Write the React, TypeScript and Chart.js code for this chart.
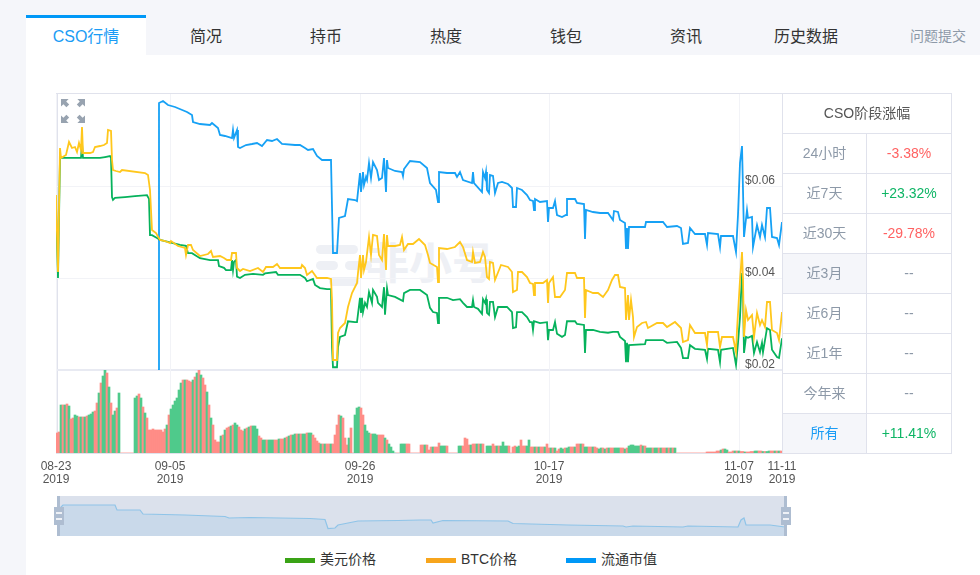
import React, { useEffect, useRef } from "react";
import { Chart, registerables } from "chart.js";

Chart.register(...registerables);

const FONT = '"Liberation Sans", "Noto Sans CJK SC", sans-serif';

const tabs = ["CSO行情", "简况", "持币", "热度", "钱包", "资讯", "历史数据"];
const tableTitle = "CSO阶段涨幅";
const periods = ["24小时", "近7天", "近30天", "近3月", "近6月", "近1年", "今年来", "所有"];
const changes = ["-3.38%", "+23.32%", "-29.78%", "--", "--", "--", "--", "+11.41%"];
const legendNames = ["美元价格", "BTC价格", "流通市值"];

const xTickIndex = [0, 114, 304, 493, 683, 726];
const xTickDates = ["08-23", "09-05", "09-26", "10-17", "11-07", "11-11"];
const xTickYears = ["2019", "2019", "2019", "2019", "2019", "2019"];
const usdTicks = [20, 40, 60];

// [sample index, USD price in thousandths of a dollar]
const usdPrice: number[][] = [
  [0,55.9],[2,40.0],[4,66.1],[25,66.1],[26,69.3],[27,66.1],[44,66.1],[49,66.3],[54,66.5],[55,66.1],[56,57.6],[57,57.0],[59,57.4],[69,57.6],[79,57.8],[91,58.0],[93,57.2],[94,49.3],
  [96,49.3],[101,48.7],[104,48.3],[124,47.2],[130,47.0],[132,45.4],[136,45.4],[144,44.3],[154,43.9],[162,43.9],[163,42.6],[168,42.2],[170,41.7],[175,41.7],[176,43.9],[177,41.7],[178,43.5],[180,43.9],[181,40.3],[184,40.0],
  [189,40.7],[197,40.9],[207,40.7],[209,41.0],[220,41.3],[222,40.7],[244,40.7],[249,40.0],[251,39.3],[257,39.8],[259,38.5],[264,37.8],[271,37.6],[275,37.6],[276,25.0],[277,20.6],[281,20.6],[282,25.0],[284,27.2],[289,27.6],
  [292,30.6],[299,30.4],[301,30.4],[304,35.7],[305,32.4],[306,35.7],[307,32.6],[309,34.6],[311,33.7],[313,36.9],[316,34.6],[317,37.4],[321,35.9],[322,34.6],[326,33.7],[328,38.0],[329,32.0],[331,37.8],[332,36.3],[339,35.9],
  [347,35.0],[348,36.7],[354,37.4],[364,37.4],[371,36.3],[374,33.5],[377,32.6],[381,32.4],[382,30.2],[383,35.7],[391,35.7],[397,35.2],[404,35.4],[407,34.6],[411,33.7],[416,33.7],[417,35.2],[418,33.7],[422,33.3],[426,32.2],
  [427,35.4],[429,34.6],[430,35.4],[431,32.4],[433,32.0],[434,34.8],[437,34.8],[439,31.5],[442,33.7],[451,33.7],[456,32.6],[457,29.1],[460,29.3],[461,32.6],[466,32.6],[471,31.5],[474,30.4],[476,30.4],[477,28.7],[478,30.6],
  [484,30.2],[491,30.4],[492,26.5],[493,28.7],[497,28.7],[499,30.4],[501,27.9],[506,27.2],[509,27.6],[511,30.6],[519,30.6],[521,30.0],[528,29.8],[529,23.7],[530,28.7],[537,28.7],[544,28.3],[552,28.1],[557,28.3],[562,28.3],
  [564,27.2],[569,26.3],[570,21.7],[571,25.9],[572,21.7],[573,25.4],[589,25.6],[590,26.5],[607,26.5],[611,25.9],[621,26.1],[625,24.8],[627,22.6],[632,22.6],[634,25.4],[639,24.6],[649,24.4],[651,22.4],[652,24.6],[662,24.4],
  [664,21.7],[665,24.4],[677,24.8],[680,21.1],[682,25.9],[684,31.5],[686,41.1],[687,36.7],[688,23.7],[690,27.2],[692,27.0],[696,27.4],[698,23.7],[701,26.1],[704,23.9],[706,25.9],[707,23.9],[711,29.1],[714,28.7],[716,24.4],
  [721,22.8],[723,22.6],[726,26.9],
];

// [sample index, BTC price in its own hidden axis units]
const btcPrice: number[][] = [
  [0,175],[2,98],[4,222],[5,212],[10,215],[13,228],[16,222],[19,223],[21,218],[23,227],[25,220],[26,243],[27,217],[34,217],[37,218],[39,223],[44,224],[48,225],[51,227],[52,240],[55,239],[56,210],[57,200],[60,199],[64,198],
  [66,200],[89,197],[92,195],[94,180],[96,140],[100,137],[104,130],[109,129],[114,127],[115,129],[122,124],[129,122],[130,115],[132,125],[135,125],[137,120],[144,114],[152,116],[155,119],[157,113],[164,114],[168,112],[171,110],
  [175,110],[176,117],[180,117],[181,102],[184,99],[187,101],[194,99],[202,102],[207,98],[210,103],[217,103],[221,106],[224,102],[234,102],[245,102],[246,105],[249,102],[251,95],[256,99],[261,92],[271,92],[275,91],[276,70],
  [277,10],[281,10],[282,37],[284,42],[289,47],[292,63],[296,77],[301,87],[302,97],[304,115],[305,92],[307,115],[308,100],[310,108],[313,133],[315,115],[317,135],[321,134],[323,115],[326,110],[328,136],[330,100],[331,135],
  [332,124],[339,124],[344,125],[346,133],[348,120],[352,126],[357,126],[363,131],[369,125],[372,115],[374,107],[381,103],[382,88],[383,122],[391,121],[399,123],[404,128],[407,123],[411,110],[416,108],[417,118],[419,107],
  [424,108],[427,118],[429,113],[431,93],[433,91],[434,108],[437,107],[439,90],[441,95],[445,105],[452,103],[456,98],[457,78],[461,80],[462,98],[466,98],[471,93],[474,87],[477,86],[478,75],[479,87],[487,87],[491,90],[492,67],
  [493,87],[497,93],[499,73],[504,73],[509,80],[511,97],[519,97],[521,92],[528,92],[529,52],[530,80],[537,77],[542,77],[547,73],[552,80],[556,90],[559,95],[562,95],[564,83],[569,82],[570,50],[572,75],[573,50],[575,70],[577,53],
  [578,33],[581,43],[586,47],[590,48],[592,42],[601,47],[607,47],[611,43],[619,48],[625,42],[627,28],[632,30],[634,45],[639,37],[649,37],[651,25],[652,38],[662,38],[664,23],[666,33],[677,33],[680,18],[681,40],[684,90],[686,118],
  [687,90],[688,33],[690,60],[692,50],[696,55],[698,33],[701,57],[704,45],[706,50],[709,43],[711,68],[714,68],[716,40],[721,37],[723,30],[726,58],
];

// [sample index, circulating market cap in its own hidden axis units]
const marketCap: number[][] = [
  [102,0],[103,267],[107,269],[112,265],[119,263],[131,258],[136,255],[137,248],[144,246],[154,245],[156,247],[162,242],[164,235],[169,234],[176,232],[177,240],[178,232],[181,240],[182,223],[184,222],[190,225],[196,226],[201,227],
  [206,224],[211,230],[216,229],[221,231],[226,226],[239,225],[244,225],[249,222],[252,220],[257,221],[261,214],[266,210],[275,210],[277,117],[281,117],[283,152],[289,154],[292,171],[299,170],[301,169],[304,197],[305,178],
  [307,198],[308,185],[310,193],[311,190],[313,207],[315,192],[317,208],[321,200],[323,190],[326,192],[328,212],[330,178],[331,210],[332,202],[339,199],[346,198],[347,194],[348,201],[354,209],[364,208],[371,202],[374,187],
  [380,180],[382,168],[383,198],[391,197],[399,197],[401,193],[404,198],[407,190],[416,187],[417,198],[418,187],[426,178],[427,198],[429,192],[430,198],[431,180],[433,177],[434,195],[437,194],[439,177],[442,187],[446,188],
  [452,186],[456,182],[457,163],[460,163],[461,182],[466,180],[471,175],[474,170],[477,169],[478,160],[479,171],[484,168],[491,169],[492,148],[493,162],[497,162],[499,169],[501,155],[506,153],[510,155],[511,171],[519,171],
  [521,167],[528,166],[529,131],[530,160],[537,158],[544,157],[552,157],[557,150],[558,159],[562,158],[564,150],[569,147],[570,121],[571,142],[572,121],[573,143],[589,143],[590,148],[607,148],[611,143],[621,144],[625,142],
  [627,126],[632,127],[634,142],[639,136],[649,136],[651,125],[652,137],[662,136],[664,123],[665,134],[677,134],[680,118],[682,155],[684,207],[686,224],[687,180],[688,133],[691,160],[692,152],[696,153],[697,123],[701,145],
  [704,133],[706,145],[709,133],[711,162],[714,162],[716,133],[721,132],[723,125],[726,148],
];

// Traded volume per sample, on its own hidden axis
const volumeBars: number[] = [
  20,21,48,48,48,49,47,34,35,38,
  37,36,36,36,36,37,38,39,41,42,
  50,60,70,77,83,80,66,50,38,42,
  45,60,0,0,0,0,0,0,0,55,
  57,59,55,46,40,35,23,23,24,23,
  23,23,23,21,24,28,38,44,48,52,
  55,63,70,73,73,73,72,71,73,76,
  80,83,78,75,68,61,48,35,28,13,
  11,11,17,18,23,25,26,27,28,30,
  28,26,23,22,24,25,26,27,27,27,
  24,17,15,13,13,13,13,13,13,13,
  13,14,14,14,15,16,17,18,18,19,
  19,19,19,19,19,20,20,20,18,15,
  12,10,9,9,9,9,9,9,9,18,
  28,38,37,35,15,8,15,25,0,38,
  45,46,45,38,28,22,20,19,19,19,
  18,18,18,18,15,13,9,6,2,0,
  0,0,9,9,9,9,9,0,0,0,
  0,0,8,8,8,8,3,6,6,6,
  6,10,7,7,7,7,0,0,0,0,
  0,7,7,7,15,14,8,8,9,9,
  9,9,9,9,0,7,7,7,9,7,
  7,7,7,11,7,7,7,0,6,7,
  6,7,13,7,7,7,13,6,6,6,
  6,6,6,6,6,9,5,5,5,5,
  2,4,5,4,5,5,6,6,6,6,
  9,9,9,9,6,6,6,6,6,6,
  5,4,5,5,4,5,5,5,5,5,
  5,5,5,5,4,5,7,8,8,7,
  7,7,8,7,7,5,5,5,5,5,
  5,5,5,5,5,5,5,5,5,5,
  0,0,0,0,0,0,0,0,0,0,
  0,0,0,0,0,1,1,1,1,1,
  2,2,3,4,4,3,1,1,2,2,
  2,2,1.5,1.5,1,1,1,1.5,1.5,2,
  2,2,2,1.5,1.5,1.5,2,2,2,2,
  2,2,2,
];
// r = falling bar, g = rising bar, one letter per bar above
const volumeDirection =
  "rrgrgrgrrg" + "grgrgrgggr" + "rgrggrgrgg" + "rgrrrrrrrg" + "grgrgrrrrr" + "rrrrrgrggg" +
  "gggrgrrrgr" + "grgrrgrgrr" + "rrgrgrrgrg" + "grrrgrgrgg" + "grrggrgggr" + "rgrrgrgrgg" +
  "rgrggrggrr" + "rrgrgrrgrr" + "rrgrrrgrrg" + "ggrrgggrgg" + "grrrgrgggg" + "rrgggrrrrr" +
  "rrrrgrrrgr" + "rrgggrrrrr" + "rggrrrrgrr" + "grgrrgggrr" + "grggggrrrr" + "ggrrrggrrg" +
  "rgrrgrrgrg" + "rrggrggrrg" + "rrgrggrrgr" + "rggrgrgrrg" + "ggrrgrgggg" + "ggrgrgggrg" +
  "grgrrgrgrg" + "rrrrrrrrrr" + "rrrrrrrrrr" + "rrgrggrrrg" + "rgrrgrrrrg" + "grrgrggrrg" + "rgr";

// [sample index, overview value] for the range slider
const overview: number[][] = [
  [0,26],[5,31],[57,31],[59,26],[82,26],[85,22],[127,21],[167,19.5],[171,18],[192,18.5],[252,17.5],[267,16.5],[270,7.5],[277,8],[280,11],[285,12],[300,15],[340,15.5],[362,16],[373,16],[375,13],
  [385,15.5],[450,15],[455,12.5],[510,11],[565,10],[568,9],[575,10],[625,9],[630,10],[680,9],[683,16],[686,18],[688,11],[712,11],[727,9],
];

const toXY = (rows: number[][]) => rows.map(([x, y]) => ({ x, y }));

const GRID = "#f2f3f7";
const LINE = "#e0e2ec";
const C_USD = "#06b25c";
const C_BTC = "#ffc71c";
const C_CAP = "#16a1f5";
const LEGEND_COLOURS = ["#3aa316", "#f7a51c", "#0098f7"];
const UP_BAR = "#4fca8b";
const DOWN_BAR = "#ff8d87";

const abs = (left: number, top: number, width: number, height: number, extra: React.CSSProperties = {}): React.CSSProperties => ({
  position: "absolute", left, top, width, height, boxSizing: "border-box", ...extra,
});

const setXTicks = (scale: any) => {
  scale.ticks = xTickIndex.map((value) => ({ value }));
};

export default function App() {
  const mainRef = useRef<HTMLCanvasElement>(null);
  const volRef = useRef<HTMLCanvasElement>(null);
  const sliderRef = useRef<HTMLCanvasElement>(null);

  useEffect(() => {
    const line = (label: string, data: number[][], color: string, yAxisID: string, order: number) => ({
      type: "line" as const, label, data: toXY(data), borderColor: color, borderWidth: 1.8, pointRadius: 0, tension: 0, yAxisID, order,
    });
    const main = new Chart(mainRef.current!, {
      type: "line",
      data: {
        datasets: [
          line(legendNames[1], btcPrice, C_BTC, "btc", 0),
          line(legendNames[0], usdPrice, C_USD, "usd", 1),
          line(legendNames[2], marketCap, C_CAP, "cap", 2),
        ],
      },
      options: {
        animation: false, responsive: false, parsing: false as any,
        layout: { padding: 0 },
        plugins: { legend: { display: false }, tooltip: { enabled: false } },
        scales: {
          x: {
            type: "linear", min: 0, max: 726, afterBuildTicks: setXTicks,
            ticks: { display: false }, border: { display: false },
            grid: { color: GRID, drawTicks: false },
          },
          usd: {
            type: "linear", position: "right", min: 20, max: 80,
            afterBuildTicks: (s: any) => { s.ticks = usdTicks.map((value) => ({ value })); },
            afterFit: (s: any) => { s.paddingTop = 0; s.paddingBottom = 0; s.width = 0; },
            border: { display: false },
            grid: { color: GRID, drawTicks: false },
            ticks: {
              mirror: true, padding: -7, labelOffset: -5, color: "#555",
              font: { family: FONT, size: 12 },
              callback: (v: any) => `$${(Number(v) / 1000).toFixed(2)}`,
            },
          },
          btc: { type: "linear", display: false, min: 0, max: 276 },
          cap: { type: "linear", display: false, min: 0, max: 276 },
        },
      },
    });

    const volume = new Chart(volRef.current!, {
      type: "bar",
      data: {
        datasets: [{
          label: "成交量",
          data: volumeBars.map((y, i) => ({ x: 2 * i + 1, y })),
          backgroundColor: volumeBars.map((_, i) => (volumeDirection[i] === "r" ? DOWN_BAR : UP_BAR)),
          barThickness: 2,
        }],
      },
      options: {
        animation: false, responsive: false, parsing: false as any,
        layout: { padding: { left: 30, right: 44, top: 0, bottom: 0 } },
        plugins: { legend: { display: false }, tooltip: { enabled: false } },
        scales: {
          x: {
            type: "linear", offset: false, min: 0, max: 726, afterBuildTicks: setXTicks,
            afterFit: (s: any) => { s.paddingLeft = 0; s.paddingRight = 0; s.height = 37; },
            border: { display: false },
            grid: { color: GRID, drawTicks: false, offset: false },
            ticks: {
              autoSkip: false, maxRotation: 0, padding: 7, color: "#555",
              font: { family: FONT, size: 12, lineHeight: 1.1 },
              callback: (v: any) => {
                const i = xTickIndex.indexOf(Number(v));
                return [xTickDates[i], xTickYears[i]];
              },
            },
          },
          y: { type: "linear", display: false, min: 0, max: 83 },
        },
      },
    });

    const slider = new Chart(sliderRef.current!, {
      type: "line",
      data: {
        datasets: [{
          label: "overview", data: toXY(overview), borderColor: "#8fc4e8", borderWidth: 1.2,
          backgroundColor: "#c9d9ea", fill: "origin", pointRadius: 0, tension: 0,
        }],
      },
      options: {
        animation: false, responsive: false, parsing: false as any,
        layout: { padding: 0 },
        plugins: { legend: { display: false }, tooltip: { enabled: false } },
        scales: {
          x: { type: "linear", display: false, min: 0, max: 727 },
          y: { type: "linear", display: false, min: 0, max: 40 },
        },
      },
    });

    return () => { main.destroy(); volume.destroy(); slider.destroy(); };
  }, []);

  const arrow = (x: number, y: number, sx: number, sy: number) => (
    <path
      key={`${x}-${y}`}
      transform={`translate(${x} ${y}) scale(${sx} ${sy})`}
      d="M0 0H7.6L5.2 2.4L8.2 5.4L5.4 8.2L2.4 5.2L0 7.6Z"
      fill="#98a3b0"
    />
  );

  const handle = (left: number, barLeft: number) => (
    <React.Fragment key={left}>
      <div style={abs(barLeft, 496, 3, 40, { background: "#aebdd1" })} />
      <div style={abs(left, 507, 10, 18, { background: "#aebdd1" })} />
      <div style={abs(left + 2, 512, 6, 2, { background: "#eef1f6" })} />
      <div style={abs(left + 2, 518, 6, 2, { background: "#eef1f6" })} />
    </React.Fragment>
  );

  return (
    <div style={{ position: "absolute", left: 0, top: 0, width: 980, height: 575, overflow: "hidden", background: "#f5f6fa", fontFamily: FONT }}>
      <div style={abs(26, 55, 954, 520, { background: "#fff" })} />
      <div style={abs(26, 15, 120, 40, { background: "#fff", borderTop: "3px solid #0098f7" })} />
      {tabs.map((t, i) => (
        <div key={t} style={abs(26 + 120 * i, 18, 120, 37, { lineHeight: "37px", textAlign: "center", fontSize: 16, color: i === 0 ? "#1a9cf5" : "#333" })}>{t}</div>
      ))}
      <div style={abs(898, 18, 80, 37, { lineHeight: "37px", textAlign: "center", fontSize: 14, color: "#8d99a8" })}>问题提交</div>

      {/* frame */}
      <div style={abs(56, 93, 727, 361, { borderLeft: `2px solid ${LINE}`, borderTop: `1px solid ${LINE}`, borderBottom: `1px solid ${LINE}` })} />
      <div style={abs(56, 369, 727, 2, { background: "#e8eaf2" })} />

      {/* watermark */}
      <div style={abs(316, 245, 42, 9, { background: "#eef0f5", borderRadius: 5 })} />
      <div style={abs(316, 261, 22, 9, { background: "#eef0f5", borderRadius: 5 })} />
      <div style={abs(345, 261, 27, 9, { background: "#eef0f5", borderRadius: 5 })} />
      <div style={abs(329, 277, 30, 9, { background: "#eef0f5", borderRadius: 5 })} />
      <div style={abs(366, 240, 140, 48, { fontSize: 43, lineHeight: "48px", fontWeight: 700, color: "#eef0f5", whiteSpace: "nowrap" })}>非小号</div>

      <canvas ref={mainRef} width={726} height={276} style={{ position: "absolute", left: 56, top: 94, display: "block" }} />
      <canvas ref={volRef} width={800} height={120} style={{ position: "absolute", left: 26, top: 370, display: "block" }} />

      <svg width={30} height={30} style={{ position: "absolute", left: 58, top: 97 }}>
        {arrow(3, 2, 1, 1)}
        {arrow(27, 2, -1, 1)}
        {arrow(3, 26, 1, -1)}
        {arrow(27, 26, -1, -1)}
      </svg>

      {/* table */}
      <div style={abs(782, 93, 170, 361, { borderLeft: `1px solid ${LINE}`, borderTop: `1px solid ${LINE}` })} />
      <div style={abs(783, 94, 169, 40, { borderRight: `1px solid ${LINE}`, borderBottom: `1px solid ${LINE}`, lineHeight: "39px", textAlign: "center", fontSize: 14, color: "#555" })}>{tableTitle}</div>
      {periods.map((p, i) => {
        const last = i === periods.length - 1;
        const shade = i === 3 || last;
        const ch = changes[i];
        const col = ch === "--" ? "#8d99a8" : ch[0] === "+" ? "#0eb565" : "#ff6262";
        return (
          <React.Fragment key={p}>
            <div style={abs(783, 134 + 40 * i, 84, 40, { borderRight: `1px solid ${LINE}`, borderBottom: `1px solid ${LINE}`, background: shade ? "#f5f6fa" : "#fff", lineHeight: "39px", textAlign: "center", fontSize: 14, color: last ? "#1a9cf5" : "#8d99a8" })}>{p}</div>
            <div style={abs(867, 134 + 40 * i, 85, 40, { borderRight: `1px solid ${LINE}`, borderBottom: `1px solid ${LINE}`, lineHeight: "39px", textAlign: "center", fontSize: 14, color: col })}>{ch}</div>
          </React.Fragment>
        );
      })}

      {/* range slider */}
      <div style={abs(58, 496, 728, 40, { background: "#dbe1ec" })} />
      <canvas ref={sliderRef} width={727} height={40} style={{ position: "absolute", left: 58, top: 496, display: "block" }} />
      {handle(54, 57)}
      {handle(781, 784)}

      {/* legend */}
      {legendNames.map((n, i) => {
        const left = [285, 426, 566][i];
        return (
          <React.Fragment key={n}>
            <div style={abs(left, 558, 30, 5, { background: LEGEND_COLOURS[i] })} />
            <div style={abs(left + 35, 549, 90, 20, { lineHeight: "20px", fontSize: 14, color: "#333", whiteSpace: "nowrap" })}>{n}</div>
          </React.Fragment>
        );
      })}
    </div>
  );
}
